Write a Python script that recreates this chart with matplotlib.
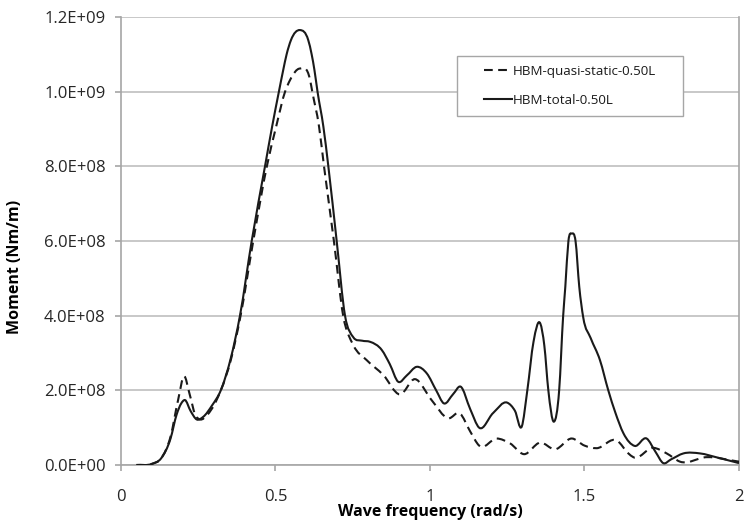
import matplotlib
matplotlib.use("Agg")
import matplotlib.pyplot as plt
from matplotlib.path import Path
from matplotlib.patches import PathPatch, Rectangle
from matplotlib.lines import Line2D

# ---------------- data ----------------
freq_total = [0.05, 0.10, 0.13, 0.16, 0.18, 0.195, 0.207, 0.225, 0.245, 0.266,
              0.295, 0.323, 0.355, 0.385, 0.423, 0.466, 0.489, 0.511, 0.525, 0.536,
              0.550, 0.579, 0.606, 0.617, 0.626, 0.636, 0.655, 0.671, 0.698, 0.725,
              0.752, 0.78, 0.806, 0.844, 0.87, 0.897, 0.925, 0.957, 0.99, 1.02,
              1.045, 1.075, 1.099, 1.13, 1.159, 1.204, 1.25, 1.275, 1.297, 1.315,
              1.335, 1.357, 1.37, 1.383, 1.401, 1.418, 1.431, 1.438, 1.448, 1.459,
              1.471, 1.483, 1.496, 1.52, 1.55, 1.577, 1.60, 1.626, 1.663, 1.701,
              1.73, 1.755, 1.78, 1.82, 1.874, 1.93, 2.0]
moment_total = [0.0, 3e6, 1.8e7, 7e7, 1.35e8, 1.65e8, 1.74e8, 1.45e8, 1.22e8, 1.29e8,
                1.6e8, 2.0e8, 2.85e8, 4.0e8, 6.0e8, 8.0e8, 9.06e8, 1.0e9, 1.058e9, 1.10e9,
                1.138e9, 1.165e9, 1.138e9, 1.10e9, 1.058e9, 1.0e9, 9.06e8, 8.0e8, 6.0e8, 4.0e8,
                3.42e8, 3.33e8, 3.30e8, 3.08e8, 2.7e8, 2.23e8, 2.4e8, 2.63e8, 2.45e8, 2.0e8,
                1.65e8, 1.9e8, 2.1e8, 1.5e8, 1.0e8, 1.39e8, 1.67e8, 1.45e8, 1.03e8, 2.0e8,
                3.3e8, 3.79e8, 3.2e8, 2.0e8, 1.16e8, 2.0e8, 4.0e8, 4.78e8, 6.0e8, 6.2e8,
                6.0e8, 4.78e8, 3.95e8, 3.4e8, 2.81e8, 2.0e8, 1.4e8, 8.5e7, 5.1e7, 7.1e7,
                3.5e7, 5e6, 1.5e7, 3.1e7, 3.1e7, 2.0e7, 5e6]

freq_qs = [0.05, 0.10, 0.13, 0.16, 0.185, 0.204, 0.222, 0.24, 0.256, 0.28,
           0.323, 0.355, 0.387, 0.428, 0.472, 0.502, 0.531, 0.547, 0.579, 0.612,
           0.619, 0.641, 0.657, 0.689, 0.719, 0.752, 0.795, 0.849, 0.903, 0.951,
           1.005, 1.059, 1.097, 1.13, 1.159, 1.216, 1.259, 1.304, 1.356, 1.405,
           1.459, 1.50, 1.539, 1.606, 1.642, 1.658, 1.723, 1.766, 1.809, 1.895, 2.0]
moment_qs = [0.0, 3e6, 1.8e7, 7.5e7, 1.75e8, 2.38e8, 1.9e8, 1.35e8, 1.22e8, 1.35e8,
             2.0e8, 2.8e8, 4.0e8, 6.0e8, 8.0e8, 9.06e8, 1.0e9, 1.031e9, 1.062e9, 1.031e9,
             1.0e9, 9.06e8, 8.0e8, 6.0e8, 4.0e8, 3.21e8, 2.81e8, 2.41e8, 1.89e8, 2.3e8,
             1.74e8, 1.25e8, 1.38e8, 9e7, 5.2e7, 7.1e7, 5.8e7, 2.9e7, 6.0e7, 4.2e7,
             7.1e7, 5.2e7, 4.5e7, 6.5e7, 3.1e7, 2.1e7, 4.6e7, 3.1e7, 9e6, 2.1e7, 9e6]

series_labels = ["HBM-quasi-static-0.50L", "HBM-total-0.50L"]
x_ticks = [0, 0.5, 1, 1.5, 2]
x_ticklabels = ["0", "0.5", "1", "1.5", "2"]
y_ticks = [0, 2e8, 4e8, 6e8, 8e8, 1.0e9, 1.2e9]
y_ticklabels = ["0.0E+00", "2.0E+08", "4.0E+08", "6.0E+08", "8.0E+08", "1.0E+09", "1.2E+09"]
x_title = "Wave frequency (rad/s)"
y_title = "Moment (Nm/m)"

# ---------------- style ----------------
plt.rcParams['font.family'] = ['Open Sans', 'DejaVu Sans']
LINE_COLOR = "#1a1a1a"
GRID_COLOR = "#c4c4c4"
AXIS_COLOR = "#a6a6a6"
LW = 1.5
DASH = (0, (4.2, 2.6))


def smooth_path(xs, ys):
    """Smoothed line drawn as cubic Bezier segments through the data points."""
    n = len(xs)
    h = [xs[i + 1] - xs[i] for i in range(n - 1)]
    d = [(ys[i + 1] - ys[i]) / h[i] for i in range(n - 1)]
    m = [d[0]]
    for i in range(1, n - 1):
        m.append((h[i] * d[i - 1] + h[i - 1] * d[i]) / (h[i - 1] + h[i]))
    m.append(d[-1])
    verts = [(xs[0], ys[0])]
    codes = [Path.MOVETO]
    for i in range(n - 1):
        c1 = (xs[i] + h[i] / 3.0, ys[i] + m[i] * h[i] / 3.0)
        c2 = (xs[i + 1] - h[i] / 3.0, ys[i + 1] - m[i + 1] * h[i] / 3.0)
        verts += [c1, c2, (xs[i + 1], ys[i + 1])]
        codes += [Path.CURVE4] * 3
    return Path(verts, codes)


fig = plt.figure(figsize=(7.46, 5.23), dpi=100)
ax = fig.add_axes([0.1622, 0.1109, 0.8284, 0.8566])

ax.set_xlim(0, 2)
ax.set_ylim(0, 1.2e9)

p_qs = PathPatch(smooth_path(freq_qs, moment_qs), fill=False, edgecolor=LINE_COLOR,
                 lw=LW, linestyle=DASH, zorder=3, capstyle='butt', joinstyle='round')
p_tot = PathPatch(smooth_path(freq_total, moment_total), fill=False, edgecolor=LINE_COLOR,
                  lw=LW, linestyle='-', zorder=4, joinstyle='round')
ax.add_patch(p_qs)
ax.add_patch(p_tot)

ax.set_xticks(x_ticks)
ax.set_xticklabels(x_ticklabels)
ax.set_yticks(y_ticks)
ax.set_yticklabels(y_ticklabels)

ax.grid(axis='y', color=GRID_COLOR, lw=1.3, zorder=0)
ax.set_axisbelow(True)
ax.spines['top'].set_visible(False)
for s in ['left', 'bottom', 'right']:
    ax.spines[s].set_color(AXIS_COLOR)
    ax.spines[s].set_linewidth(1.2)

ax.tick_params(axis='both', colors=AXIS_COLOR, labelcolor="#262626", labelsize=12,
               direction='out', length=4, width=1.2)
ax.tick_params(axis='y', pad=7)
ax.tick_params(axis='x', pad=13)

ax.set_xlabel(x_title, fontsize=11.5, fontweight='bold', color='black')
ax.set_ylabel(y_title, fontsize=11.5, fontweight='bold', color='black')
ax.xaxis.set_label_coords(0.5, -0.105)
ax.yaxis.set_label_coords(-0.171, 0.442)
ax.xaxis.label.set_va('center')
ax.yaxis.label.set_va('center')

# legend box
frame = Rectangle((0.544, 0.779), 0.365, 0.134, transform=ax.transAxes,
                  facecolor='white', edgecolor="#a6a6a6", lw=1.0, zorder=5)
ax.add_patch(frame)
handles = [Line2D([], [], color=LINE_COLOR, lw=LW, linestyle=DASH),
           Line2D([], [], color=LINE_COLOR, lw=LW, linestyle='-')]
leg = ax.legend(handles, series_labels, loc='center', bbox_to_anchor=(0.7265, 0.846),
                frameon=False, fontsize=9.6, handlelength=2.1, handletextpad=0.1,
                labelspacing=1.2)
leg.set_zorder(6)
for t in leg.get_texts():
    t.set_color("#1a1a1a")

fig.savefig("out.png", dpi=100)
